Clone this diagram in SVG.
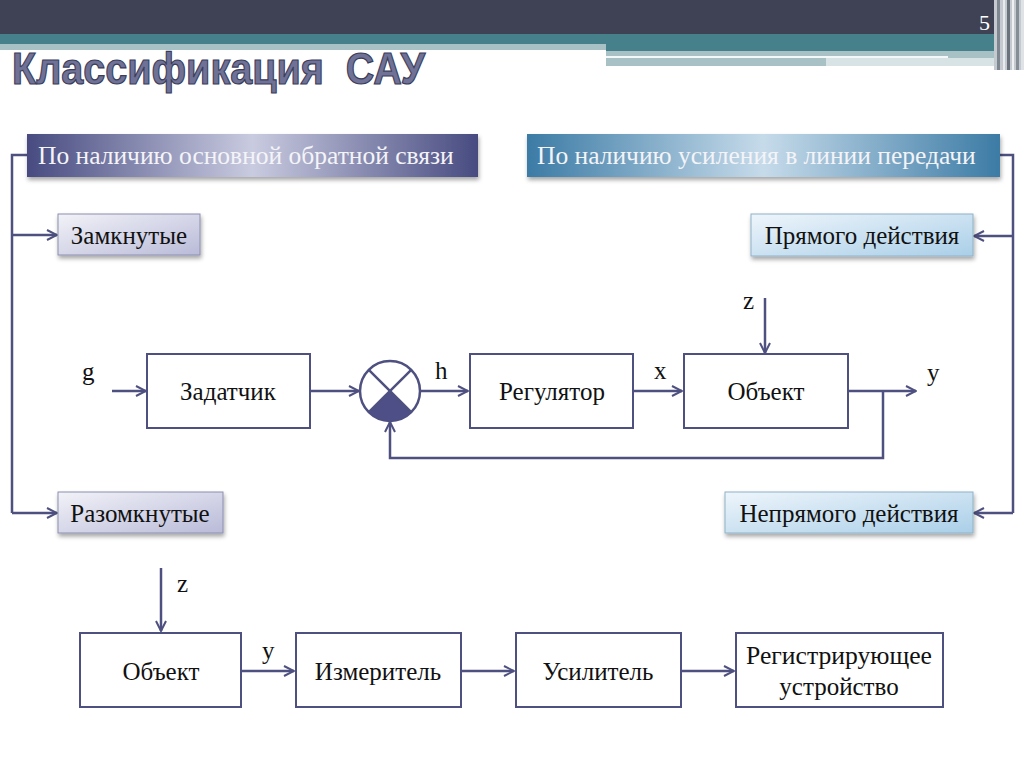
<svg xmlns="http://www.w3.org/2000/svg" width="1024" height="768" viewBox="0 0 1024 768">
<defs>
<style>
.bx{fill:#fff;stroke:#4e5080;stroke-width:2}
.ln{fill:none;stroke:#4e5080;stroke-width:2.5}
.t{font-family:"Liberation Serif","Times New Roman",serif;font-size:25px;fill:#111}
.tc{text-anchor:middle}
.ht{font-family:"Liberation Serif","Times New Roman",serif;font-size:25.5px;fill:#f4f4f8}
.sb{stroke:#8c8fb0;stroke-width:1}
.tt{font-family:"Liberation Sans",Arial,sans-serif;font-weight:bold;font-size:44px;fill:#6f7296;stroke:#3a3d5a;stroke-width:1.2}
</style>
<marker id="ar" viewBox="0 0 12 12" refX="11" refY="6" markerWidth="12" markerHeight="12" markerUnits="userSpaceOnUse" orient="auto">
<path d="M1,1 L11,6 L1,11" fill="none" stroke="#4e5080" stroke-width="2"/>
</marker>
<linearGradient id="gL" x1="0" y1="0" x2="1" y2="0">
<stop offset="0" stop-color="#474b80"/>
<stop offset="0.5" stop-color="#c9cbe0"/>
<stop offset="1" stop-color="#474b80"/>
</linearGradient>
<linearGradient id="gR" x1="0" y1="0" x2="1" y2="0">
<stop offset="0" stop-color="#3c7ba5"/>
<stop offset="0.5" stop-color="#c6dbea"/>
<stop offset="1" stop-color="#3c7ba5"/>
</linearGradient>
<linearGradient id="gLs" x1="0" y1="0" x2="1" y2="1">
<stop offset="0" stop-color="#f2f2f8"/>
<stop offset="1" stop-color="#b9bbd8"/>
</linearGradient>
<linearGradient id="gRs" x1="0" y1="0" x2="1" y2="1">
<stop offset="0" stop-color="#eef5fb"/>
<stop offset="1" stop-color="#aacfe8"/>
</linearGradient>
<filter id="sh" x="-10%" y="-20%" width="120%" height="150%">
<feDropShadow dx="1" dy="3" stdDeviation="2" flood-color="#000" flood-opacity="0.35"/>
</filter>
</defs>
<rect width="1024" height="768" fill="#fff"/>
<g id="header">
<rect x="0" y="0" width="1024" height="35" fill="#3f4254"/>
<rect x="0" y="34" width="1000" height="11" fill="#46808a"/>
<rect x="0" y="44" width="606" height="6" fill="#a7c1c4"/>
<rect x="606" y="44" width="394" height="7" fill="#46808a"/>
<rect x="606" y="51" width="394" height="5" fill="#a7c1c4"/>
<rect x="606" y="56" width="342" height="2" fill="#f4f8f8"/>
<rect x="948" y="56" width="52" height="2" fill="#a7c1c4"/>
<rect x="606" y="58" width="220" height="8" fill="#a7c1c4"/>
<rect x="826" y="58" width="174" height="8" fill="#d7e3e4"/>
<rect x="994" y="0" width="30" height="70" fill="#c4cacf"/>
<rect x="997" y="0" width="3" height="70" fill="#7e8790"/>
<rect x="1003" y="0" width="2" height="70" fill="#e8ecee"/>
<rect x="1007" y="0" width="3" height="70" fill="#6a737c"/>
<rect x="1012" y="0" width="2" height="70" fill="#eef0f2"/>
<rect x="1016" y="0" width="3" height="70" fill="#858d95"/>
<rect x="1021" y="0" width="3" height="70" fill="#dfe3e6"/>
<text x="990" y="30" font-family="Liberation Serif,serif" font-size="22" fill="#fff" text-anchor="end">5</text>
<text class="tt" x="12" y="84" textLength="413" lengthAdjust="spacingAndGlyphs">Классификация&#160;&#160;САУ</text>
</g>
<g id="connectors">
<polyline class="ln" points="27,155 12,155 12,513"/>
<line class="ln" x1="12" y1="235" x2="57" y2="235" marker-end="url(#ar)"/>
<line class="ln" x1="12" y1="513" x2="57" y2="513" marker-end="url(#ar)"/>
<polyline class="ln" points="1000,155 1013,155 1013,513"/>
<line class="ln" x1="1013" y1="236" x2="974" y2="236" marker-end="url(#ar)"/>
<line class="ln" x1="1013" y1="513" x2="974" y2="513" marker-end="url(#ar)"/>
<line class="ln" x1="112" y1="391" x2="146" y2="391" marker-end="url(#ar)"/>
<line class="ln" x1="310" y1="391" x2="359" y2="391" marker-end="url(#ar)"/>
<line class="ln" x1="420" y1="391" x2="468" y2="391" marker-end="url(#ar)"/>
<line class="ln" x1="633" y1="391" x2="682" y2="391" marker-end="url(#ar)"/>
<line class="ln" x1="765" y1="298" x2="765" y2="353" marker-end="url(#ar)"/>
<line class="ln" x1="848" y1="391" x2="916" y2="391" marker-end="url(#ar)"/>
<polyline class="ln" points="883,391 883,458 390,458 390,422" marker-end="url(#ar)"/>
<line class="ln" x1="161" y1="568" x2="161" y2="631" marker-end="url(#ar)"/>
<line class="ln" x1="241" y1="671" x2="294" y2="671" marker-end="url(#ar)"/>
<line class="ln" x1="461" y1="671" x2="514" y2="671" marker-end="url(#ar)"/>
<line class="ln" x1="681" y1="671" x2="734" y2="671" marker-end="url(#ar)"/>
</g>
<g id="labels" class="t">
<text x="82" y="380">g</text>
<text x="435" y="379">h</text>
<text x="654" y="379">x</text>
<text x="743" y="309">z</text>
<text x="927" y="381">y</text>
<text x="177" y="592">z</text>
<text x="262" y="659">y</text>
</g>
<g id="hdrLeft">
<rect x="27" y="134" width="451" height="43" fill="url(#gL)" filter="url(#sh)"/>
<text class="ht" x="38" y="164">По наличию основной обратной связи</text>
</g>
<g id="hdrRight">
<rect x="527" y="134" width="473" height="43" fill="url(#gR)" filter="url(#sh)"/>
<text class="ht" x="537" y="164">По наличию усиления в линии передачи</text>
</g>
<g id="closed">
<rect x="58" y="214" width="142" height="41" fill="url(#gLs)" class="sb" filter="url(#sh)"/>
<text class="t tc" x="129" y="244">Замкнутые</text>
</g>
<g id="open">
<rect x="58" y="492" width="165" height="41" fill="url(#gLs)" class="sb" filter="url(#sh)"/>
<text class="t tc" x="140" y="522">Разомкнутые</text>
</g>
<g id="direct">
<rect x="751" y="214" width="222" height="42" fill="url(#gRs)" stroke="#8fb2c8" stroke-width="1" filter="url(#sh)"/>
<text class="t tc" x="862" y="244">Прямого действия</text>
</g>
<g id="indirect">
<rect x="725" y="492" width="248" height="41" fill="url(#gRs)" stroke="#8fb2c8" stroke-width="1" filter="url(#sh)"/>
<text class="t tc" x="849" y="522">Непрямого действия</text>
</g>
<g id="zadatchik">
<rect class="bx" x="147" y="354" width="163" height="74"/>
<text class="t tc" x="228" y="400">Задатчик</text>
</g>
<g id="summator">
<circle cx="390" cy="391" r="30" fill="#fff" stroke="#4e5080" stroke-width="2.5"/>
<path d="M390,391 L411.2,412.2 A30,30 0 0 1 368.8,412.2 Z" fill="#4d4f86"/>
<line x1="368.8" y1="369.8" x2="411.2" y2="412.2" stroke="#4e5080" stroke-width="2.5"/>
<line x1="411.2" y1="369.8" x2="368.8" y2="412.2" stroke="#4e5080" stroke-width="2.5"/>
</g>
<g id="regulator">
<rect class="bx" x="470" y="354" width="163" height="74"/>
<text class="t tc" x="552" y="400">Регулятор</text>
</g>
<g id="object1">
<rect class="bx" x="684" y="354" width="164" height="74"/>
<text class="t tc" x="766" y="400">Объект</text>
</g>
<g id="object2">
<rect class="bx" x="80" y="633" width="161" height="74"/>
<text class="t tc" x="161" y="680">Объект</text>
</g>
<g id="meter">
<rect class="bx" x="296" y="633" width="165" height="74"/>
<text class="t tc" x="378" y="680">Измеритель</text>
</g>
<g id="amplifier">
<rect class="bx" x="516" y="633" width="165" height="74"/>
<text class="t tc" x="598" y="680">Усилитель</text>
</g>
<g id="recorder">
<rect class="bx" x="736" y="633" width="207" height="74"/>
<text class="t tc" x="839" y="664" textLength="186" lengthAdjust="spacingAndGlyphs">Регистрирующее</text>
<text class="t tc" x="839" y="695">устройство</text>
</g>
</svg>
